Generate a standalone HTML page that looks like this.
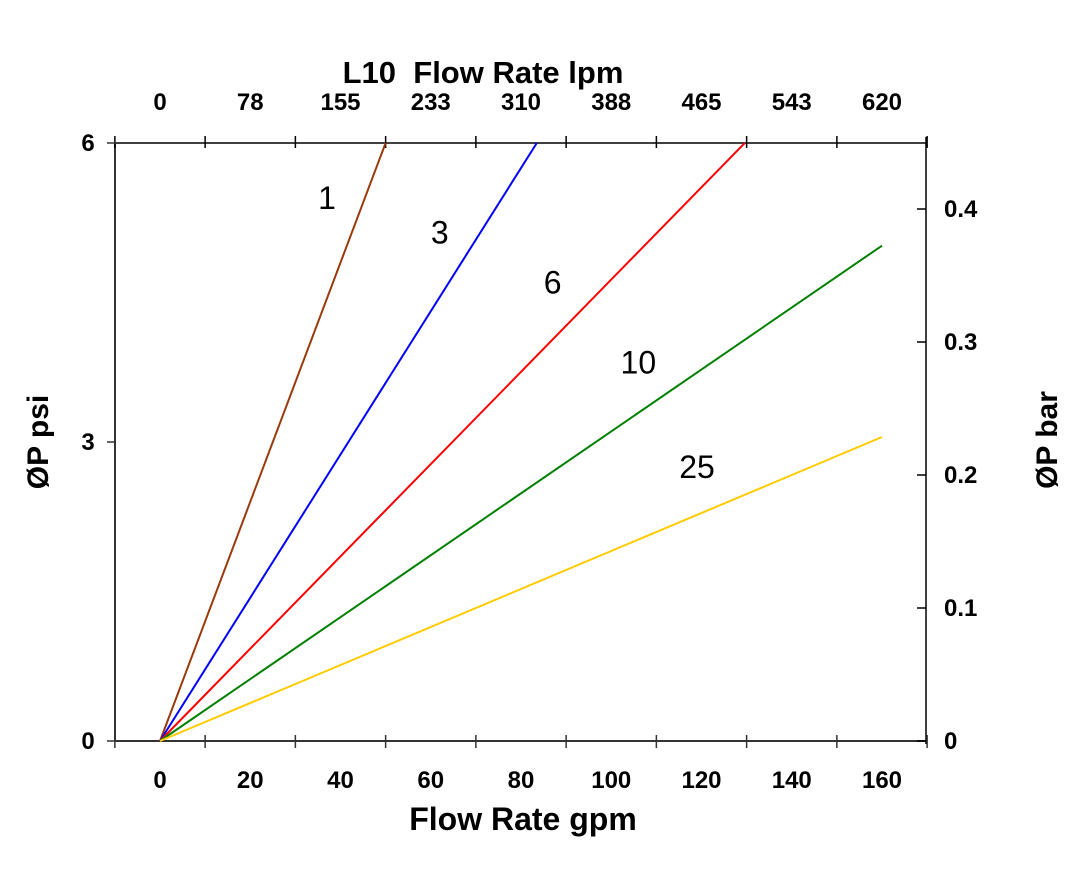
<!DOCTYPE html>
<html><head><meta charset="utf-8"><style>
html,body{margin:0;padding:0;background:#fff;}
svg{display:block;font-family:"Liberation Sans",Arial,sans-serif;font-weight:bold;}
</style></head><body>
<svg id="chart" width="1068" height="872" viewBox="0 0 1068 872">
<g id="axes"></g><g id="series"></g><g id="labels"></g>
</svg>
<script>
const gpmTicks=[0,20,40,60,80,100,120,140,160];
const lpmTicks=["0","78","155","233","310","388","465","543","620"];
const psiTicks=[0,3,6];
const barTicks=[0,0.1,0.2,0.3,0.4];
const seriesNames=["1","3","6","10","25"];
const seriesColors=["#9a3a0c","#0000ff","#ff0000","#008000","#ffcc00"];
const seriesEndX=[50,83.5,129.6,160,160];
const seriesEndY=[6,6,6,4.97,3.05];
const labelX=[37,62,87,106,119];
const labelY=[5.45,5.1,4.6,3.8,2.75];

const L=115,R=926,T=143,B=741;
const sx=v=>160+(v)*4.5125;
const sy=v=>B-v*99.67;
const sbar=v=>B-v*1330;
const NS="http://www.w3.org/2000/svg";
function mk(tag,attrs,parent,text){const e=document.createElementNS(NS,tag);for(const k in attrs)e.setAttribute(k,attrs[k]);if(text!==undefined)e.textContent=text;parent.appendChild(e);return e;}
const ax=document.getElementById('axes'),se=document.getElementById('series'),lb=document.getElementById('labels');

let e;
e=mk('line',{x1:L,y1:B,x2:R,y2:B,stroke:'#333','stroke-width':2},ax);

e=mk('line',{x1:L,y1:T,x2:R,y2:T,stroke:'#000','stroke-width':1.5},ax);

e=mk('line',{x1:L,y1:T,x2:L,y2:B,stroke:'#333','stroke-width':2},ax);

e=mk('line',{x1:R,y1:T-6,x2:R,y2:B+3,stroke:'#000','stroke-width':1.5},ax);


for(let v=-10;v<=170;v+=20){
  const x=sx(v);
  e=mk('line',{x1:x,y1:B-6,x2:x,y2:B+7,stroke:'#333','stroke-width':1.5},ax);
  
  e=mk('line',{x1:x,y1:T-7,x2:x,y2:T+5,stroke:'#000','stroke-width':1.5},ax);
  
}
gpmTicks.forEach((v,i)=>{
  e=mk('text',{x:sx(v),y:788,'text-anchor':'middle','font-size':24},lb,String(v));
  
  e=mk('text',{x:sx(v),y:110,'text-anchor':'middle','font-size':24},lb,lpmTicks[i]);
  
});
psiTicks.forEach(v=>{
  e=mk('line',{x1:L-8,y1:sy(v),x2:L+1,y2:sy(v),stroke:'#333','stroke-width':1.5},ax);
  
  e=mk('text',{x:88,y:sy(v)+8,'text-anchor':'middle','font-size':24},lb,String(v));
  
});
barTicks.forEach(v=>{
  e=mk('line',{x1:R-9,y1:sbar(v),x2:R,y2:sbar(v),stroke:'#000','stroke-width':1.5},ax);
  
  e=mk('text',{x:944,y:sbar(v)+8,'text-anchor':'start','font-size':24},lb,v===0?'0':v.toFixed(1));
  
});
seriesNames.forEach((n,i)=>{
  e=mk('line',{x1:sx(0),y1:sy(0),x2:sx(seriesEndX[i]),y2:sy(seriesEndY[i]),stroke:seriesColors[i],'stroke-width':2},se);
  
  e=mk('text',{x:sx(labelX[i]),y:sy(labelY[i])+11,'text-anchor':'middle','font-size':32,'font-weight':'normal'},lb,n);
  
});
e=mk('text',{x:483,y:83,'text-anchor':'middle','font-size':31,'xml:space':'preserve',style:'white-space:pre'},lb,'L10\u00a0 Flow Rate lpm');

e=mk('text',{x:523,y:830,'text-anchor':'middle','font-size':32},lb,'Flow Rate gpm');

e=mk('text',{x:0,y:0,'text-anchor':'middle','font-size':30,transform:'translate(48,442) rotate(-90)'},lb,'ØP psi');

e=mk('text',{x:0,y:0,'text-anchor':'middle','font-size':30,transform:'translate(1057,440) rotate(-90)'},lb,'ØP bar');

</script>
</body></html>
